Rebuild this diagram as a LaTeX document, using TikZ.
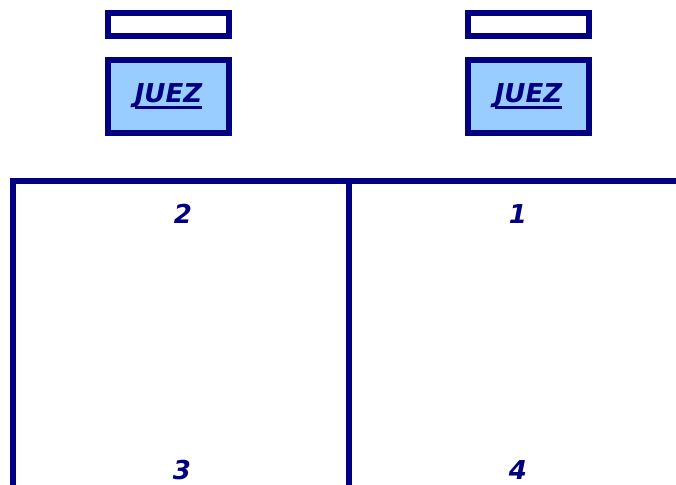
\documentclass[tikz,border=0pt]{standalone}
\usepackage{fontspec}
\setmainfont{DejaVu Sans}
\definecolor{navy}{RGB}{0,0,128}
\definecolor{juezfill}{RGB}{153,204,255}
\newcommand{\thickul}[1]{\setbox0\hbox{#1}\leavevmode\rlap{\rule[-5pt]{\wd0}{2.4pt}}\box0}
\begin{document}
\begin{tikzpicture}[x=0.75pt, y=-0.75pt,
    every node/.style={inner sep=0pt, outer sep=0pt},
    namebox/.style={draw=navy, line width=4.5pt, fill=white, minimum width=90.75pt, minimum height=17.25pt},
    juezbox/.style={draw=navy, line width=4.5pt, fill=juezfill, minimum width=90.75pt, minimum height=54.75pt,
        font=\fontsize{19.5}{21}\selectfont\bfseries\itshape, text=navy},
    num/.style={font=\fontsize{19.5}{21}\selectfont\bfseries\itshape, text=navy}]
            \useasboundingbox (0,0) rectangle (676,485);
            % Judges on the left and right
            \node[namebox] (name2) at (168.5,24.5) {};
            \node[juezbox] (juez2) at (168.5,96.5) {\thickul{JUEZ}};
            \node[namebox] (name1) at (528.5,24.5) {};
            \node[juezbox] (juez1) at (528.5,96.5) {\thickul{JUEZ}};

            % Frame
            \coordinate (fl) at (13,485);
            \coordinate (ft) at (13,181);
            \coordinate (fr) at (676,181);
            \coordinate (mt) at (349,181);
            \coordinate (mb) at (349,485);
            \draw[navy, line width=4.5pt, line join=miter] (fl) -- (ft) -- (fr);
            \draw[navy, line width=4.5pt] (mt) -- (mb);

            % Corners
            \node[num] (c2) at (183,214) {2};
            \node[num] (c1) at (518,214) {1};
            \node[num] (c3) at (182,470) {3};
            \node[num] (c4) at (518,470) {4};
          \end{tikzpicture}
\end{document}
